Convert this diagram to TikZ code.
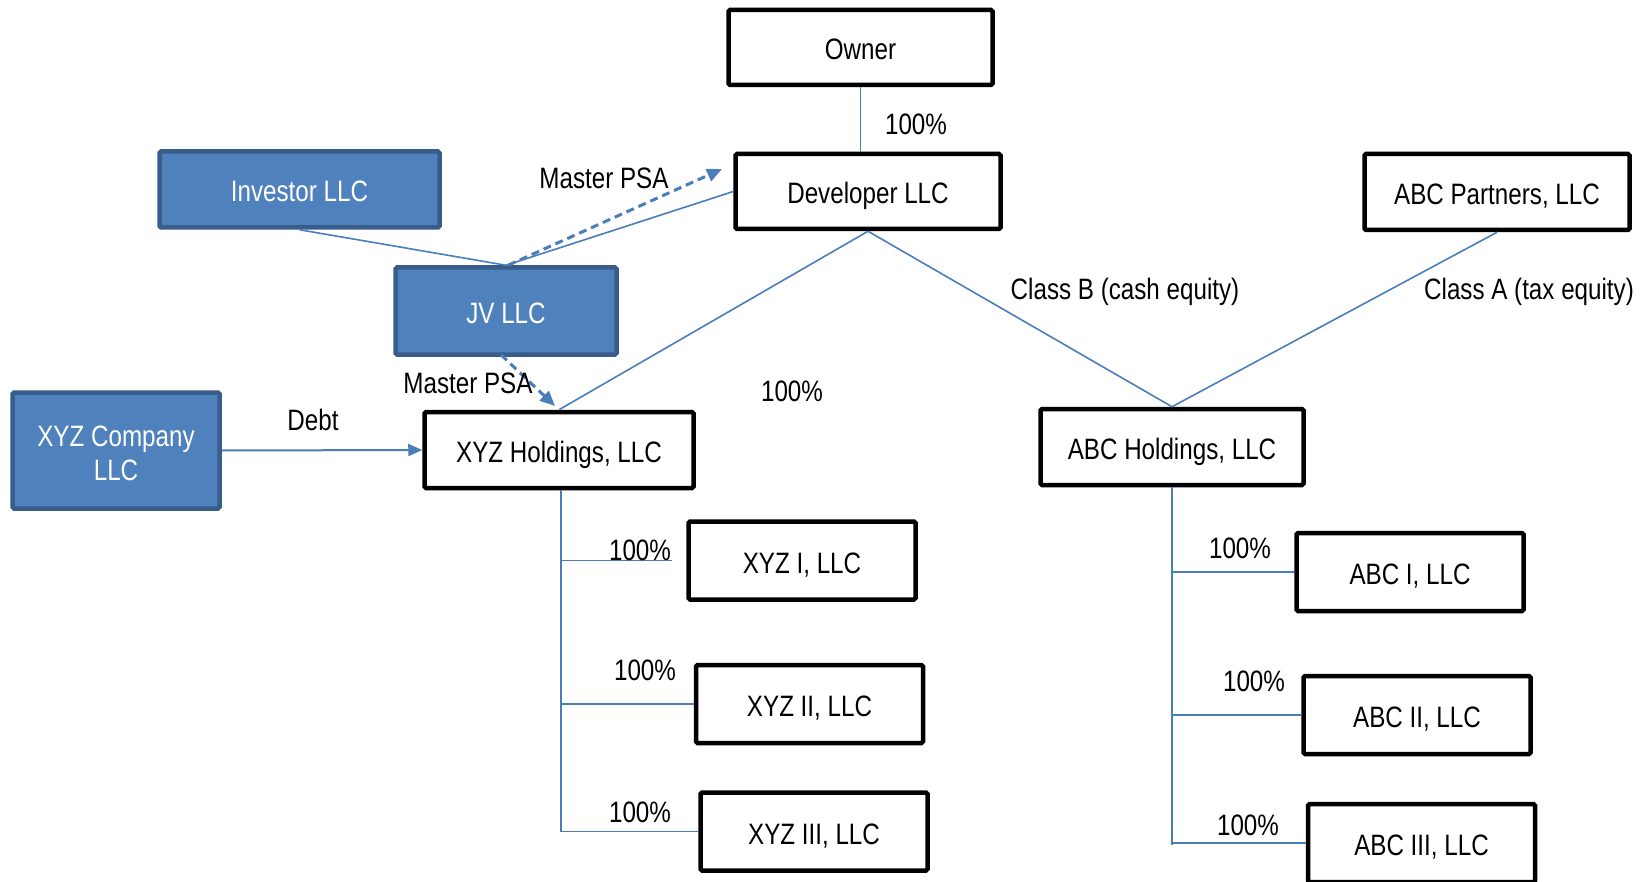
\documentclass[tikz,border=0pt]{standalone}
\usepackage{fontspec}
\setmainfont{Liberation Sans}[FakeStretch=0.82]
\usetikzlibrary{arrows.meta,calc}

\definecolor{boxblue}{HTML}{4F81BD}
\definecolor{boxedge}{HTML}{385D8A}
\definecolor{linkblue}{HTML}{4A7EBB}

\tikzset{
  entity/.style={draw=black, line width=4.5pt, fill=white, inner sep=0pt,
    rounded corners=1.5pt, font=\fontsize{29.5}{34}\selectfont, align=center,
    text height=25pt, text depth=0pt},
  bluebox/.style={entity, draw=boxedge, fill=boxblue, text=white},
  small/.style={minimum width=227pt, minimum height=78pt},
  link/.style={draw=linkblue, line width=1.6pt},
  psa/.style={draw=linkblue, line width=3pt, dash pattern=on 8pt off 5pt,
    -{Triangle[length=15pt,width=13pt,fill=linkblue]}},
  flow/.style={draw=linkblue, line width=2pt,
    -{Triangle[length=14pt,width=12pt,fill=linkblue]}},
  lbl/.style={inner sep=0pt, font=\fontsize{29.5}{34}\selectfont}
}

\begin{document}
\begin{tikzpicture}[x=1pt, y=-1pt]
\useasboundingbox (0,0) rectangle (1645,882);
\clip (0,0) rectangle (1645,882);

% ownership chain at the top
\node[entity, minimum width=264pt, minimum height=75pt] (owner) at (860.5,47.5) {Owner};
\node[entity, minimum width=265pt, minimum height=75pt] (dev) at (868,191.5) {Developer LLC};
\node[entity, minimum width=265pt, minimum height=76pt] (abcp) at (1497,192) {ABC Partners, LLC};

% blue parties on the left
\node[bluebox, minimum width=280pt, minimum height=76pt] (inv) at (299.5,189.5) {Investor LLC};
\node[bluebox, minimum width=221pt, minimum height=87pt] (jv) at (506,311) {JV LLC};
\node[bluebox, minimum width=207pt, minimum height=116pt, text height=59pt] (xyzc) at (116,450.5) {XYZ Company\\LLC};

% holding companies
\node[entity, minimum width=269pt, minimum height=76pt] (xyzh) at (559,450) {XYZ Holdings, LLC};
\node[entity, minimum width=263pt, minimum height=76pt] (abch) at (1172,447) {ABC Holdings, LLC};

% project companies
\node[entity, small] (x1) at (802,560.5) {XYZ I, LLC};
\node[entity, small] (x2) at (809.5,704) {XYZ II, LLC};
\node[entity, small] (x3) at (814,831.5) {XYZ III, LLC};
\node[entity, small] (a1) at (1410,572) {ABC I, LLC};
\node[entity, small] (a2) at (1417,715) {ABC II, LLC};
\node[entity, small] (a3) at (1421.5,843) {ABC III, LLC};

% equity links
\draw[link] (owner.south) -- (owner.south |- dev.north);
\draw[link] (inv.south) -- (jv.north);
\draw[link] (jv.north) -- (dev.west);
\draw[link] (dev.south) -- (xyzh.north);
\draw[link] (dev.south) -- (abch.north);
\draw[link] (abcp.south) -- (abch.north);

% master PSA agreements
\coordinate (psaDev) at (722,169);
\coordinate (psaXyz) at (555,406);
\draw[psa] ($(jv.north)+(2,0)$) -- (psaDev);
\draw[psa] ($(jv.south)+(-5,-2)$) -- (psaXyz);

% debt financing
\draw[flow] (xyzc.east) -- (xyzh.west);

% XYZ subsidiaries
\coordinate (xt) at (561,831.5);
\draw[link] (xyzh.south -| xt) -- (xt);
\draw[link] (x1.west -| xt) -- ($(x1.west)+(-14,0)$);
\draw[link] (x2.west -| xt) -- (x2.west);
\draw[link] (x3.west -| xt) -- (x3.west);

% ABC subsidiaries
\coordinate (at) at (1172,845);
\draw[link] (abch.south) -- (at);
\draw[link] (a1.west -| at) -- (a1.west);
\draw[link] (a2.west -| at) -- (a2.west);
\draw[link] (a3.west -| at) -- (a3.west);

% labels
\node[lbl] (l0) at (916,124) {100\%};
\node[lbl] (lpsa1) at (604,178) {Master PSA};
\node[lbl] (lpsa2) at (468,383) {Master PSA};
\node[lbl] (lmid) at (792,391) {100\%};
\node[lbl] (lb) at (1125,292) {Class B (cash equity)};
\node[lbl] (la) at (1529,292) {Class A (tax equity)};
\node[lbl] (ldebt) at (313,420) {Debt};
\node[lbl] (lx1) at (640,550) {100\%};
\node[lbl] (lx2) at (645,670) {100\%};
\node[lbl] (lx3) at (640,812) {100\%};
\node[lbl] (la1) at (1240,548) {100\%};
\node[lbl] (la2) at (1254,681) {100\%};
\node[lbl] (la3) at (1248,825) {100\%};
\end{tikzpicture}
\end{document}
